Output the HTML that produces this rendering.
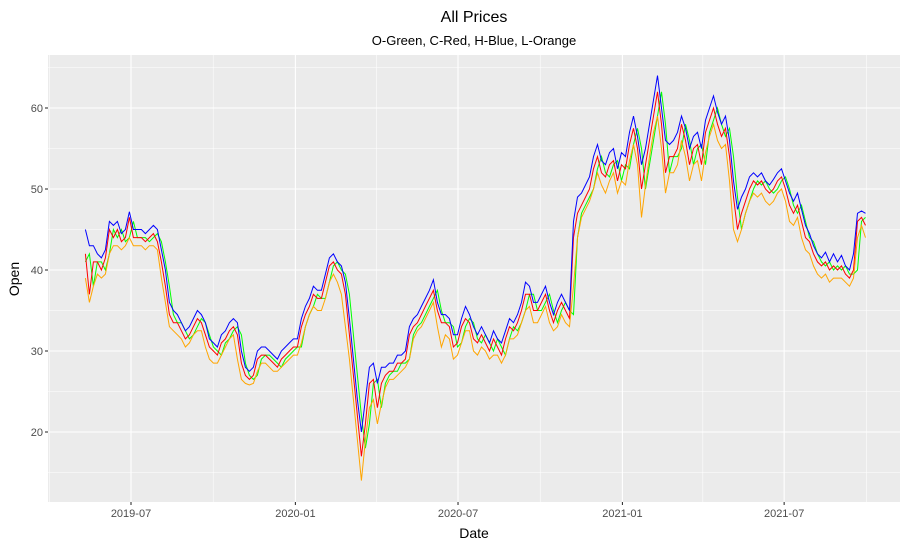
<!DOCTYPE html>
<html><head><meta charset="utf-8"><style>
body{margin:0;background:#fff;font-family:"Liberation Sans",sans-serif}
</style></head><body>
<svg id="c" width="910" height="548" xmlns="http://www.w3.org/2000/svg"></svg>
<script>
const C=[42,37,41,41,40,41.5,45,44,45,43.5,44,46.5,44,44,44,43.5,44,44.5,43.5,41,38,34.5,33.5,33.5,32.5,31.5,32,33,34,33.5,32,30.5,30,29.5,31,31.5,32.5,33,32,28.5,27,26.5,27,29,29.5,29.5,29,28.5,28,29,29.5,30,30.5,30.5,33,34.5,35.5,37,36.5,36.5,38.5,40.5,41,40,39.5,37,32,27,22,17,21,26,26.5,23,26,27,27.5,27.5,28.5,28.5,29,32,33,33.5,34.5,35.5,36.5,37.5,35,33.5,33.5,33,30.5,31,33,34,33.5,31.5,31,32,31,30,31.5,30.5,29.5,31.5,33,32.5,33.5,35,37,37,35,35,36,37,35,33.5,35,36,35,34,44,47,48,49,50,52.5,54,52,51.5,53,53.5,51,53,52.5,55.5,57.5,55,50,53,56,59,62,58,52,54,54,55,58,56,53,55,55.5,53,57,58.5,60,58,56.5,57.5,54,49,45,47,48.5,50,51,50.5,51,50,49.5,50,51,51.5,50,48,47,48,46,44,43.5,42,41,40.5,41,40,40.5,40,40.5,39.5,39,40,46,46.5,45.5];
const O=[41,42,38,41,41,40,42,45,44,45,43.5,44,46,44,44,44,43.5,44,44.5,43.5,41,38,34.5,33.5,33.5,32.5,31.5,32,33,34,33.5,32,30.5,30,29.5,31,31.5,32.5,33,32,28.5,27,26.5,27,29,29.5,29.5,29,28.5,28,29,29.5,30,30.5,30.5,33,34.5,35.5,37,36.5,36.5,38.5,40.5,41,40,39.5,37,32,27,22,18,21,26,26.5,23,26,27,27.5,27.5,28.5,28.5,29,32,33,33.5,34.5,35.5,36.5,37.5,35,33.5,33.5,33,30.5,31,33,34,33.5,31.5,31,32,31,30,31.5,30.5,29.5,31.5,33,32.5,33.5,35,37,37,35,35,36,37,35,33.5,35,36,35,34.5,44,47,48,49,50,52.5,54,52,51.5,53,53.5,51,53,52.5,55.5,57.5,55,50,53,56,59,62,58,52,54,54,55,58,56,53,55,55.5,53,57,58.5,60,58,56.5,57.5,54,49,45,47,48.5,50,51,50.5,51,50,49.5,50,51,51.5,50,48,47,48,46,44,43.5,42,41,40.5,41,40,40.5,40,40.5,39.5,39.5,40,46,46.5];
const H=[45,43,43,42,41.5,42.5,46,45.5,46,44.5,45,47.2,45,45,45,44.5,45,45.5,45,42.5,40,36,35,34.5,33.5,32.5,33,34,35,34.5,33.5,31.5,31,30.5,32,32.5,33.5,34,33.5,30,28,27.5,28,30,30.5,30.5,30,29.5,29,30,30.5,31,31.5,31.5,34,35.5,36.5,38,37.5,37.5,39.5,41.5,42,41,40.5,38.5,34,29,24,20,24,28,28.5,26,28,28,28.5,28.5,29.5,29.5,30,33,34,34.5,35.5,36.5,37.5,38.8,36,34.5,34.5,34,32,32,34,35.5,34.5,33,32,33,32,31,32.5,31.5,31,32.5,34,33.5,34.5,36,38.5,38,36,36,37,38,36,34.5,36,37,36,35,46,49,49.5,50.5,51.5,54,55.5,53.5,53,54.5,55,52.5,54.5,54,57,59,56.5,53,55,58,61,64,60,56,55.5,56,57,59,57.5,55,56.5,57,55,58.5,60,61.5,59.5,58,59,56,51,47.5,49,50,51.5,52,51.5,52,51,50.5,51.2,52,52.5,51,49.5,48.5,49.5,47.5,45.5,44.5,43,42,41.5,42.2,41,42,41,41.8,40.5,40,42,47,47.3,47];
const L=[39,36,38,39.5,39,39.5,42,43,43,42.5,43,44,43,43,43,42.5,43,43,42.5,39,36,33,32.5,32,31.5,30.5,31,32,32.5,32.5,30.5,29,28.5,28.5,29.5,30.5,31.5,32,29,26.5,26,25.8,26,27.5,28.5,28.5,28,27.5,27.5,28,28.5,29,29.5,29.5,31,33,34.5,35.5,35,35,36.5,38.5,39.5,38.5,37,33,29,24,19,14,19,23,24,21,23.5,25.5,26.5,26.5,27,27.5,28,29,31.5,32.5,33,34,35,36,33,30.5,32,31.5,29,29.5,31,32.5,32.5,30,29.5,30.5,30,29,29.5,29.5,28.5,29.5,31.5,31.5,32,33.5,35,35.5,33.5,33.5,34.5,35.5,33.5,32.5,33,34.5,33.5,33,38,44,46.5,47.5,48.5,50,52,50.5,49.5,51,52,49.5,51,50.5,53.5,55.5,53,46.5,50.5,54,57,59,55,49.5,52,52,53,56,54,51,53,53.5,51,54.5,56.5,58,56,55,55.5,51,45,43.5,45,47,48.5,49.5,49,49.5,48.5,48,48.5,49.5,50,48.5,46,45.5,46.5,44,42.5,42,40.5,39.5,39,39.5,38.5,39,39,39,38.5,38,39,44,45.5,44];
const startDate=Date.UTC(2019,4,11), stepDays=4.477;
const yTicks=[20,30,40,50,60];
const xTicks=[["2019-07",Date.UTC(2019,6,1)],["2020-01",Date.UTC(2020,0,1)],["2020-07",Date.UTC(2020,6,1)],["2021-01",Date.UTC(2021,0,1)],["2021-07",Date.UTC(2021,6,1)]];
const xMinor=[Date.UTC(2019,3,1),Date.UTC(2019,9,1),Date.UTC(2020,3,1),Date.UTC(2020,9,1),Date.UTC(2021,3,1),Date.UTC(2021,9,1)];
const yMinor=[15,25,35,45,55,65];
const P={l:48,r:900,t:55,b:502};
const ref=Date.UTC(2019,6,1);
const xs=t=>131+(t-ref)/864e5*0.8935;
const ys=v=>594-v*8.1;
const svg=document.getElementById('c');
const NS='http://www.w3.org/2000/svg';
function el(tag,attrs,parent){const e=document.createElementNS(NS,tag);for(const k in attrs)e.setAttribute(k,attrs[k]);(parent||svg).appendChild(e);return e;}
const panel=el('rect',{x:P.l,y:P.t,width:P.r-P.l,height:P.b-P.t,fill:'#ebebeb'});


const g=el('g',{});


yMinor.forEach(v=>el('line',{x1:P.l,x2:P.r,y1:ys(v),y2:ys(v),stroke:'#fff','stroke-width':0.55},g));
xMinor.forEach(t=>{const x=xs(t);if(x>P.l&&x<P.r)el('line',{x1:x,x2:x,y1:P.t,y2:P.b,stroke:'#fff','stroke-width':0.55},g);});
yTicks.forEach(v=>{el('line',{x1:P.l,x2:P.r,y1:ys(v),y2:ys(v),stroke:'#fff','stroke-width':1.1},g);
 const tk=el('line',{x1:P.l-3,x2:P.l,y1:ys(v),y2:ys(v),stroke:'#333','stroke-width':1.1});
 
 
 const t=el('text',{x:P.l-5,y:ys(v)+4,'text-anchor':'end','font-size':11,fill:'#4d4d4d'});t.textContent=v;
 
 });
xTicks.forEach(([lab,tm])=>{const x=xs(tm);el('line',{x1:x,x2:x,y1:P.t,y2:P.b,stroke:'#fff','stroke-width':1.1},g);
 const tk=el('line',{x1:x,x2:x,y1:P.b,y2:P.b+3,stroke:'#333','stroke-width':1.1});
 
 
 const t=el('text',{x:x,y:P.b+15,'text-anchor':'middle','font-size':11,fill:'#4d4d4d'});t.textContent=lab;
 
 });
function series(arr,color,name){
 const pts=arr.map((v,i)=>xs(startDate+i*stepDays*864e5).toFixed(1)+','+ys(v).toFixed(1)).join(' ');
 const p=el('polyline',{points:pts,fill:'none',stroke:color,'stroke-width':1,'stroke-linejoin':'miter'});
 
 
}
series(O,'#00ff00','open-line');
series(C,'#ff0000','close-line');
series(H,'#0000ff','high-line');
series(L,'#ffa500','low-line');
function txt(s,a,name){const t=el('text',a);t.textContent=s;
 
 return t;}
txt('All Prices',{x:474,y:22,'text-anchor':'middle','font-size':16,fill:'#000'},'chart-title');
txt('O-Green, C-Red, H-Blue, L-Orange',{x:474,y:45,'text-anchor':'middle','font-size':13,fill:'#000'},'chart-subtitle');
txt('Date',{x:474,y:538,'text-anchor':'middle','font-size':14,fill:'#000'},'x-axis-title');
txt('Open',{x:19,y:279,'text-anchor':'middle','font-size':14,fill:'#000',transform:'rotate(-90 19 279)'},'y-axis-title');
</script>
</body></html>
